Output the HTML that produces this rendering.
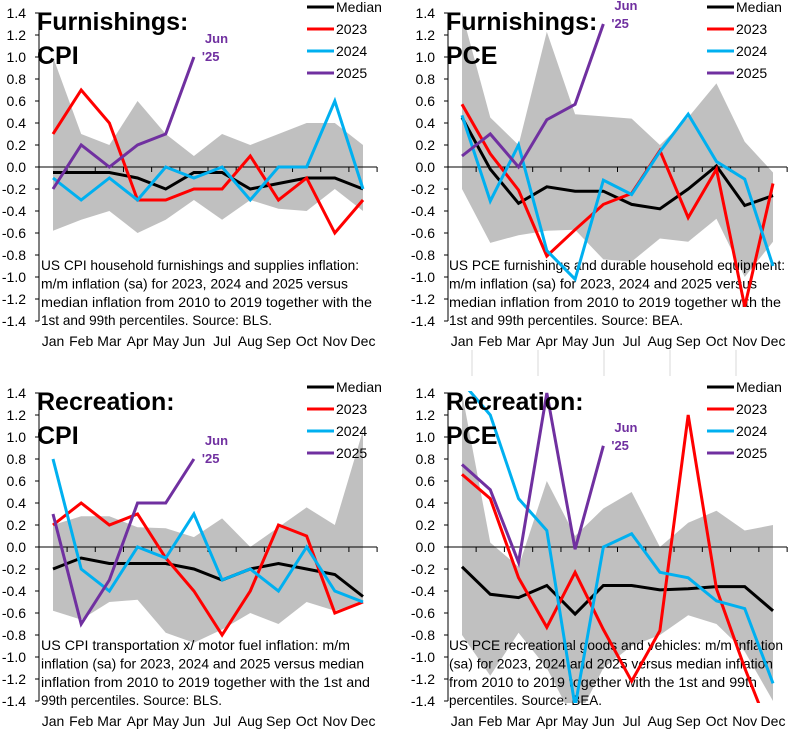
<!DOCTYPE html>
<html><head><meta charset="utf-8"><style>
html,body{margin:0;padding:0;background:#fff;}
svg{display:block;font-family:"Liberation Sans",sans-serif;}
</style></head><body>
<svg id="chart" width="796" height="732" viewBox="0 0 796 732" xmlns="http://www.w3.org/2000/svg"></svg>
<script>
const months = ["Jan","Feb","Mar","Apr","May","Jun","Jul","Aug","Sep","Oct","Nov","Dec"];
const yTicks = [1.4,1.2,1.0,0.8,0.6,0.4,0.2,0.0,-0.2,-0.4,-0.6,-0.8,-1.0,-1.2,-1.4];
const legendLabels = ["Median","2023","2024","2025"];

// Panel 1: Furnishings CPI
const p1Median = [-0.05,-0.05,-0.05,-0.1,-0.2,-0.05,-0.05,-0.2,-0.15,-0.1,-0.1,-0.2];
const p1Upper = [1.0,0.3,0.2,0.6,0.3,0.1,0.3,0.2,0.3,0.4,0.4,0.2];
const p1Lower = [-0.58,-0.48,-0.4,-0.6,-0.48,-0.3,-0.48,-0.3,-0.38,-0.4,-0.2,-0.4];
const p1Y2023 = [0.3,0.7,0.4,-0.3,-0.3,-0.2,-0.2,0.1,-0.3,-0.1,-0.6,-0.3];
const p1Y2024 = [-0.1,-0.3,-0.1,-0.3,0,-0.1,0,-0.3,0,0,0.6,-0.2];
const p1Y2025 = [-0.2,0.2,0,0.2,0.3,1.0];

// Panel 2: Furnishings PCE
const p2Median = [0.45,-0.02,-0.33,-0.18,-0.22,-0.22,-0.34,-0.38,-0.2,0.01,-0.35,-0.26];
const p2Upper = [1.4,0.45,0.2,1.23,0.48,0.46,0.44,0.2,0.45,0.76,0.23,-0.05];
const p2Lower = [-0.2,-0.69,-0.62,-0.58,-0.57,-0.84,-0.86,-0.65,-0.68,-0.47,-1.0,-0.68];
const p2Y2023 = [0.57,0.12,-0.21,-0.81,-0.57,-0.34,-0.24,0.15,-0.46,-0.02,-1.27,-0.15];
const p2Y2024 = [0.47,-0.31,0.2,-0.76,-1.02,-0.12,-0.25,0.14,0.48,0.05,-0.11,-0.9];
const p2Y2025 = [0.1,0.3,0,0.43,0.57,1.3];

// Panel 3: Recreation CPI
const p3Median = [-0.2,-0.1,-0.15,-0.15,-0.15,-0.2,-0.3,-0.2,-0.15,-0.2,-0.25,-0.45];
const p3Upper = [0.2,0.28,0.28,0.18,0.17,0.09,0.26,0.0,0.18,0.36,0.2,1.06];
const p3Lower = [-0.58,-0.66,-0.5,-0.48,-0.78,-0.87,-0.75,-0.6,-0.7,-0.5,-0.58,-0.5];
const p3Y2023 = [0.2,0.4,0.2,0.3,-0.1,-0.4,-0.8,-0.4,0.2,0.1,-0.6,-0.5];
const p3Y2024 = [0.8,-0.2,-0.4,0,-0.1,0.3,-0.3,-0.2,-0.4,0,-0.4,-0.5];
const p3Y2025 = [0.3,-0.7,-0.3,0.4,0.4,0.8];

// Panel 4: Recreation PCE
const p4Median = [-0.18,-0.43,-0.46,-0.35,-0.61,-0.35,-0.35,-0.39,-0.38,-0.36,-0.36,-0.58];
const p4Upper = [1.4,0.04,-0.18,0.6,0.1,0.35,0.5,0.0,0.22,0.33,0.15,0.2];
const p4Lower = [-0.8,-1.17,-0.78,-1.1,-1.6,-1.1,-0.9,-0.8,-0.62,-0.7,-0.95,-1.4];
const p4Y2023 = [0.66,0.44,-0.28,-0.73,-0.23,-0.75,-1.22,-0.76,1.2,-0.38,-1.1,-1.75];
const p4Y2024 = [1.5,1.2,0.44,0.15,-1.45,0,0.12,-0.23,-0.28,-0.49,-0.56,-1.24];
const p4Y2025 = [0.75,0.52,-0.14,1.4,-0.02,0.92];

const NS = "http://www.w3.org/2000/svg";
const svg = document.getElementById("chart");
function mk(tag, attrs, parent){
  const e = document.createElementNS(NS, tag);
  for (const k in attrs) e.setAttribute(k, attrs[k]);
  (parent||svg).appendChild(e);
  return e;
}
const COLORS = {median:"#000000", y2023:"#FF0000", y2024:"#00B0F0", y2025:"#7030A0", band:"#C0C0C0"};

const panels = [
  {id:"furnishings-cpi", ox:0, oy:0, axisX:39, jan:53, dec:363, axisEnd:377,
   title:["Furnishings:","CPI"], median:p1Median, upper:p1Upper, lower:p1Lower, a:p1Y2023, b:p1Y2024, c:p1Y2025,
   note:[["US CPI household furnishings and supplies inflation:",318],["m/m inflation (sa) for 2023, 2024 and 2025 versus",307],["median inflation from 2010 to 2019 together with the",331],["1st and 99th percentiles. Source: BLS.",231]], textX:41},
  {id:"furnishings-pce", ox:400, oy:0, axisX:448, jan:462, dec:773, axisEnd:787,
   title:["Furnishings:","PCE"], median:p2Median, upper:p2Upper, lower:p2Lower, a:p2Y2023, b:p2Y2024, c:p2Y2025,
   note:[["US PCE furnishings and durable household equipment:",336],["m/m inflation (sa) for 2023, 2024 and 2025 versus",308],["median inflation from 2010 to 2019 together with the",332],["1st and 99th percentiles. Source: BEA.",234]], textX:449},
  {id:"recreation-cpi", ox:0, oy:380, axisX:39, jan:53, dec:363, axisEnd:377,
   title:["Recreation:","CPI"], median:p3Median, upper:p3Upper, lower:p3Lower, a:p3Y2023, b:p3Y2024, c:p3Y2025,
   note:[["US CPI transportation x/ motor fuel inflation: m/m",309],["inflation (sa) for 2023, 2024 and 2025 versus median",323],["inflation from 2010 to 2019 together with the 1st and",329],["99th percentiles. Source: BLS.",181]], textX:41},
  {id:"recreation-pce", ox:400, oy:380, axisX:448, jan:462, dec:773, axisEnd:787,
   title:["Recreation:","PCE"], median:p4Median, upper:p4Upper, lower:p4Lower, a:p4Y2023, b:p4Y2024, c:p4Y2025,
   note:[["US PCE recreational goods and vehicles: m/m inflation",334],["(sa) for 2023, 2024 and 2025 versus median inflation",324],["from 2010 to 2019 together with the 1st and 99th",308],["percentiles. Source: BEA.",153]], textX:449}
];

// faint separators between panels
[472,538,604,670,736].forEach(function(x){
  const l = mk("line",{x1:x,y1:350,x2:x,y2:376,stroke:"#D9D9D9","stroke-width":1});
  
  
});

panels.forEach(function(p, pi){
  const g = mk("g",{});
  
  
  const top = 13 + p.oy, bottom = 321 + p.oy;
  const yS = v => top + (1.4 - v) * (bottom - top) / 2.8;
  const step = (p.dec - p.jan) / 11;
  const xS = i => p.jan + i * step;
  const cid = "clip" + pi;
  const cp = mk("clipPath",{id:cid}, g);
  mk("rect",{x:p.axisX, y:top-2, width:p.axisEnd-p.axisX+4, height:bottom-top+4}, cp);

  // band
  let pts = p.upper.map((v,i)=>xS(i)+","+yS(v));
  pts = pts.concat(p.lower.map((v,i)=>xS(i)+","+yS(v)).reverse());
  const band = mk("polygon",{points:pts.join(" "), fill:COLORS.band, "clip-path":"url(#"+cid+")"}, g);
  
  

  // y axis
  const ya = mk("line",{x1:p.axisX,y1:top,x2:p.axisX,y2:bottom,stroke:"#000","stroke-width":1}, g);
  
  
  yTicks.forEach(function(t){
    const y = yS(t);
    mk("line",{x1:p.axisX-4,y1:y,x2:p.axisX,y2:y,stroke:"#000","stroke-width":1}, g);
    const tx = mk("text",{x:p.axisX-13,y:y+5,"text-anchor":"end","font-size":"14",fill:"#000"}, g);
    tx.textContent = t.toFixed(1);
    
    
  });
  // zero axis
  const xa = mk("line",{x1:p.axisX,y1:yS(0),x2:p.axisEnd,y2:yS(0),stroke:"#000","stroke-width":1}, g);
  
  
  for (let i=0;i<12;i++){
    const x = xS(i) + step/2;
    mk("line",{x1:x,y1:yS(0),x2:x,y2:yS(0)+5,stroke:"#000","stroke-width":1}, g);
  }
  months.forEach(function(m,i){
    const tx = mk("text",{x:xS(i),y:bottom+25,"text-anchor":"middle","font-size":"14",fill:"#000"}, g);
    tx.textContent = m;
    
    
  });

  // note text
  p.note.forEach(function(ln,k){
    const tx = mk("text",{x:p.textX,y:p.oy+270+k*18.4,"font-size":"14",fill:"#000",textLength:ln[1],lengthAdjust:"spacingAndGlyphs"}, g);
    tx.textContent = ln[0];
    
    
  });

  // series
  function line(vals, color, name){
    const d = vals.map((v,i)=>(i?"L":"M")+xS(i)+","+yS(v)).join(" ");
    const pth = mk("path",{d:d,fill:"none",stroke:color,"stroke-width":3,"stroke-linejoin":"miter","clip-path":"url(#"+cid+")"}, g);
    
    
  }
  line(p.median, COLORS.median, 'median-line');
  line(p.a, COLORS.y2023, 'line-2023');
  line(p.b, COLORS.y2024, 'line-2024');
  line(p.c, COLORS.y2025, 'line-2025');

  // Jun '25 label
  const last = p.c.length - 1;
  const lx = xS(last) + 8, ly = yS(p.c[last]);
  const j1 = mk("text",{x:lx+3,y:ly-14,"font-size":"13","font-weight":"bold",fill:COLORS.y2025}, g);
  j1.textContent = "Jun";
  
  
  const j2 = mk("text",{x:lx,y:ly+4,"font-size":"13","font-weight":"bold",fill:COLORS.y2025}, g);
  j2.textContent = "'25";
  
  

  // title
  p.title.forEach(function(t,k){
    const tx = mk("text",{x:p.axisX-2,y:p.oy+30+k*34,"font-size":"25","font-weight":"bold",fill:"#000"}, g);
    tx.textContent = t;
    
    
  });

  // legend
  const lcol = [COLORS.median, COLORS.y2023, COLORS.y2024, COLORS.y2025];
  legendLabels.forEach(function(lab,k){
    const y = p.oy + 7 + k*22;
    const lg = mk("g",{}, g);
    
    
    mk("line",{x1:p.ox+307,y1:y,x2:p.ox+334,y2:y,stroke:lcol[k],"stroke-width":3}, lg);
    const tx = mk("text",{x:p.ox+336,y:y+5,"font-size":"14",fill:"#000"}, lg);
    tx.textContent = lab;
  });
});
</script>
</body></html>
